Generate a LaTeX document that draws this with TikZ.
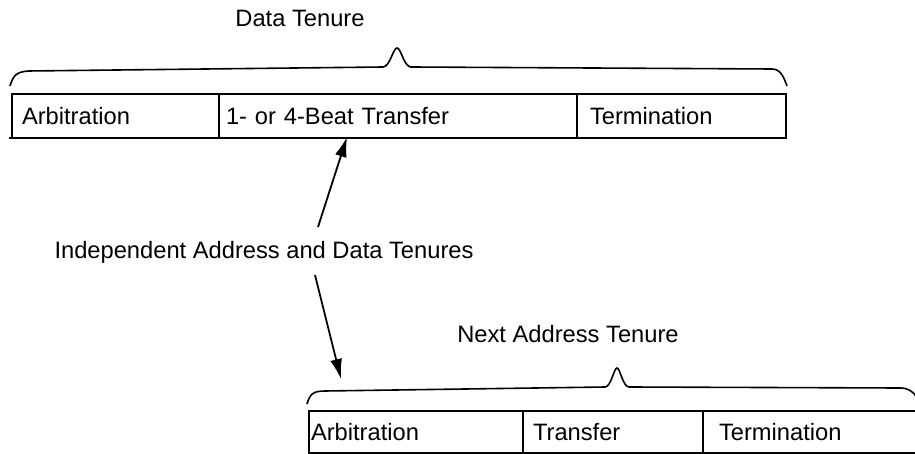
\documentclass[tikz,border=0pt]{standalone}
\usepackage{fontspec}
\setmainfont{Liberation Sans}
\usetikzlibrary{arrows.meta}
\begin{document}
\begin{tikzpicture}[x=1pt,y=-1pt,
  txt/.style={font=\fontsize{23.7}{28}\selectfont},
  cell/.style={draw,line width=2pt,rectangle,anchor=north west,outer sep=0pt,
    inner ysep=0pt,align=left,text height=17pt,text depth=0pt,txt},
  brace/.style={line width=1.6pt},
  lab/.style={txt,inner sep=0pt,text height=17pt,text depth=0pt},
  arr/.style={line width=1.8pt,-{Latex[length=20pt,width=12pt]}}]
\useasboundingbox (0,0) rectangle (915,454);
\clip (0,0) rectangle (915,454);
% top row
\node[cell,minimum height=44pt,inner xsep=10pt,text width=187pt] (c1) at (12,94) {Arbitration};
\node[cell,minimum height=44pt,inner xsep=7pt,text width=344pt] (c2) at (219,94) {1- or 4-Beat Transfer};
\node[cell,minimum height=44pt,inner xsep=13pt,text width=183pt] (c3) at (577,94) {Termination};
\draw[line width=2pt] (c1.south west) -- ++(-3,0);
% bottom row
\node[cell,minimum height=42pt,inner xsep=2pt,text width=210pt] (d1) at (309,411) {Arbitration};
\node[cell,minimum height=42pt,inner xsep=10pt,text width=160pt] (d2) at (523,411) {Transfer};
\node[cell,minimum height=42pt,inner xsep=16pt,text width=188pt] (d3) at (703,411) {Termination};
% labels
\node[lab] (dt) at (300,18.5) {Data Tenure};
\node[lab] (ind) at (264,250) {Independent Address and Data Tenures};
\node[lab] (nat) at (568,333.5) {Next Address Tenure};
% braces
\draw[brace] (10,86) .. controls (13,76) and (16,72) .. (28,71) -- (383,67)
  .. controls (390,67) and (393,48) .. (397,48) .. controls (401,48) and (404,67) .. (411,67)
  -- (772,69) .. controls (781,69) and (784,78) .. (787,86);
\draw[brace] (307,404) .. controls (310,394) and (313,391) .. (325,391) -- (605,387)
  .. controls (611,387) and (614,368) .. (617,368) .. controls (620,368) and (623,387) .. (629,387)
  -- (900,388) .. controls (908,388) and (912,391) .. (916,396);
% arrows
\coordinate (a1) at (318,227);
\coordinate (a1tip) at (347,137);
\coordinate (a2) at (315,275);
\coordinate (a2tip) at (341,379);
\draw[arr] (a1) -- (a1tip);
\draw[arr] (a2) -- (a2tip);
\end{tikzpicture}
\end{document}
